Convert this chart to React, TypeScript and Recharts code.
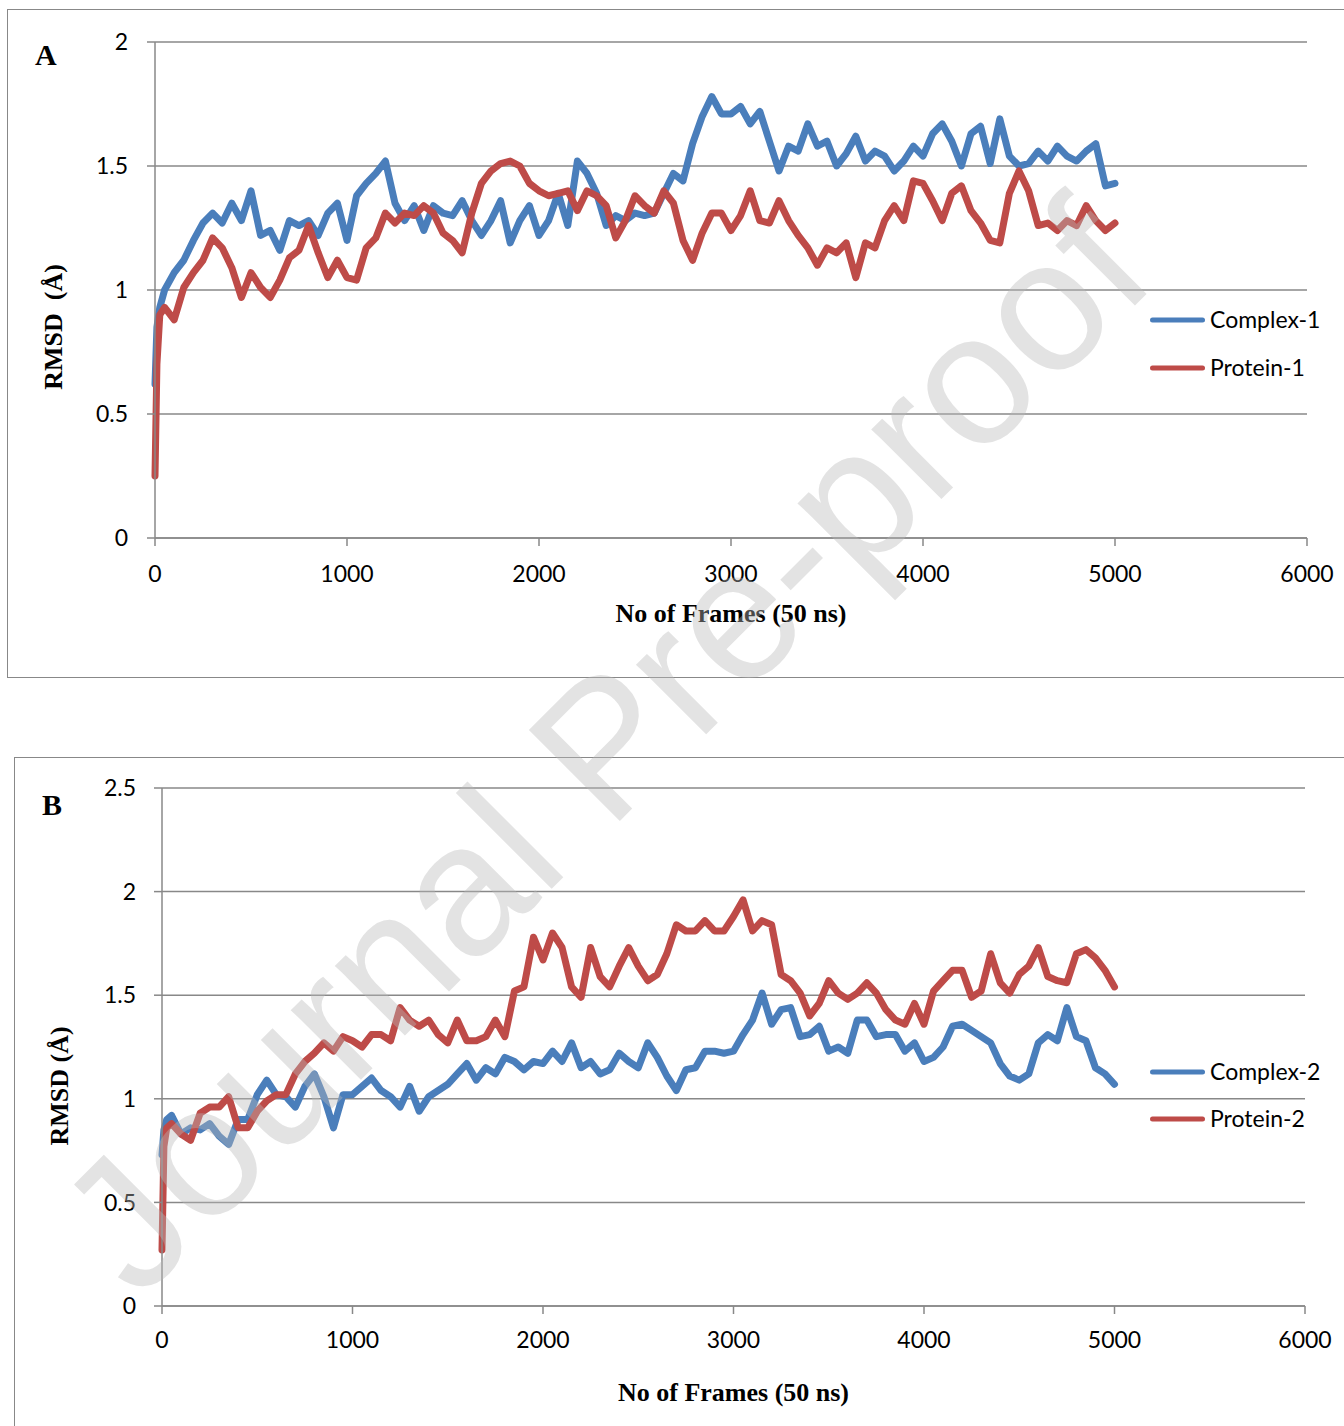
import React from 'react';
import { LineChart, Line, XAxis, YAxis, CartesianGrid, Legend } from 'recharts';

const FRAMES = [
  0, 10, 25, 50,
  100, 150, 200, 250, 300, 350, 400, 450, 500, 550,
  600, 650, 700, 750, 800, 850, 900, 950, 1000, 1050,
  1100, 1150, 1200, 1250, 1300, 1350, 1400, 1450, 1500, 1550,
  1600, 1650, 1700, 1750, 1800, 1850, 1900, 1950, 2000, 2050,
  2100, 2150, 2200, 2250, 2300, 2350, 2400, 2450, 2500, 2550,
  2600, 2650, 2700, 2750, 2800, 2850, 2900, 2950, 3000, 3050,
  3100, 3150, 3200, 3250, 3300, 3350, 3400, 3450, 3500, 3550,
  3600, 3650, 3700, 3750, 3800, 3850, 3900, 3950, 4000, 4050,
  4100, 4150, 4200, 4250, 4300, 4350, 4400, 4450, 4500, 4550,
  4600, 4650, 4700, 4750, 4800, 4850, 4900, 4950, 5000,
];

const COMPLEX_1 = [
  0.62, 0.85, 0.93, 1.0,
  1.07, 1.12, 1.2, 1.27, 1.31, 1.27, 1.35, 1.28, 1.4, 1.22,
  1.24, 1.16, 1.28, 1.26, 1.28, 1.22, 1.31, 1.35, 1.2, 1.38,
  1.43, 1.47, 1.52, 1.35, 1.28, 1.34, 1.24, 1.34, 1.31, 1.3,
  1.36, 1.28, 1.22, 1.28, 1.36, 1.19, 1.28, 1.34, 1.22, 1.28,
  1.39, 1.26, 1.52, 1.47, 1.39, 1.26, 1.3, 1.28, 1.31, 1.3,
  1.31, 1.39, 1.47, 1.44, 1.59, 1.7, 1.78, 1.71, 1.71, 1.74,
  1.67, 1.72, 1.6, 1.48, 1.58, 1.56, 1.67, 1.58, 1.6, 1.5,
  1.55, 1.62, 1.52, 1.56, 1.54, 1.48, 1.52, 1.58, 1.54, 1.63,
  1.67, 1.6, 1.5, 1.63, 1.66, 1.51, 1.69, 1.54, 1.5, 1.51,
  1.56, 1.52, 1.58, 1.54, 1.52, 1.56, 1.59, 1.42, 1.43,
];

const PROTEIN_1 = [
  0.25, 0.7, 0.9, 0.93,
  0.88, 1.01, 1.07, 1.12, 1.21, 1.17, 1.09, 0.97, 1.07, 1.01,
  0.97, 1.04, 1.13, 1.16, 1.26, 1.15, 1.05, 1.12, 1.05, 1.04,
  1.17, 1.21, 1.31, 1.27, 1.31, 1.3, 1.34, 1.31, 1.23, 1.2,
  1.15, 1.31, 1.43, 1.48, 1.51, 1.52, 1.5, 1.43, 1.4, 1.38,
  1.39, 1.4, 1.32, 1.4, 1.38, 1.34, 1.21, 1.28, 1.38, 1.34,
  1.31, 1.4, 1.35, 1.2, 1.12, 1.23, 1.31, 1.31, 1.24, 1.3,
  1.4, 1.28, 1.27, 1.36, 1.28, 1.22, 1.17, 1.1, 1.17, 1.15,
  1.19, 1.05, 1.19, 1.17, 1.28, 1.34, 1.28, 1.44, 1.43, 1.36,
  1.28, 1.39, 1.42, 1.32, 1.27, 1.2, 1.19, 1.39, 1.48, 1.4,
  1.26, 1.27, 1.24, 1.28, 1.26, 1.34, 1.28, 1.24, 1.27,
];

const COMPLEX_2 = [
  0.73, 0.85, 0.9, 0.92,
  0.83, 0.86, 0.85, 0.88, 0.82, 0.78, 0.9, 0.9, 1.02, 1.09,
  1.02, 1.01, 0.96, 1.06, 1.12, 1.01, 0.86, 1.02, 1.02, 1.06,
  1.1, 1.04, 1.01, 0.96, 1.06, 0.94, 1.01, 1.04, 1.07, 1.12,
  1.17, 1.09, 1.15, 1.12, 1.2, 1.18, 1.14, 1.18, 1.17, 1.23,
  1.18, 1.27, 1.15, 1.18, 1.12, 1.14, 1.22, 1.18, 1.15, 1.27,
  1.2, 1.11, 1.04, 1.14, 1.15, 1.23, 1.23, 1.22, 1.23, 1.31,
  1.38, 1.51, 1.36, 1.43, 1.44, 1.3, 1.31, 1.35, 1.23, 1.25,
  1.22, 1.38, 1.38, 1.3, 1.31, 1.31, 1.23, 1.27, 1.18, 1.2,
  1.25, 1.35, 1.36, 1.33, 1.3, 1.27, 1.17, 1.11, 1.09, 1.12,
  1.27, 1.31, 1.28, 1.44, 1.3, 1.28, 1.15, 1.12, 1.07,
];

const PROTEIN_2 = [
  0.27, 0.77, 0.86, 0.88,
  0.83, 0.8, 0.93, 0.96, 0.96, 1.01, 0.86, 0.86, 0.94, 0.99,
  1.02, 1.02, 1.12, 1.18, 1.22, 1.27, 1.23, 1.3, 1.28, 1.25,
  1.31, 1.31, 1.28, 1.44, 1.38, 1.35, 1.38, 1.31, 1.27, 1.38,
  1.28, 1.28, 1.3, 1.38, 1.3, 1.52, 1.54, 1.78, 1.67, 1.8,
  1.73, 1.54, 1.49, 1.73, 1.59, 1.54, 1.64, 1.73, 1.64, 1.57,
  1.6, 1.7, 1.84, 1.81, 1.81, 1.86, 1.81, 1.81, 1.88, 1.96,
  1.81, 1.86, 1.84, 1.6, 1.57, 1.51, 1.4, 1.46, 1.57, 1.51,
  1.48, 1.51, 1.56, 1.51, 1.43, 1.38, 1.36, 1.46, 1.36, 1.52,
  1.57, 1.62, 1.62, 1.49, 1.52, 1.7, 1.56, 1.51, 1.6, 1.64,
  1.73, 1.59, 1.57, 1.56, 1.7, 1.72, 1.68, 1.62, 1.54,
];

const X_TICKS = [0, 1000, 2000, 3000, 4000, 5000, 6000];
const Y_TICKS_A = [0, 0.5, 1, 1.5, 2];
const Y_TICKS_B = [0, 0.5, 1, 1.5, 2, 2.5];

const BLUE = '#4A7EBB';
const RED = '#BE4B48';
const GRAY = '#888888';
const TICK_FONT = 'Lato, "Open Sans", sans-serif';
const TITLE_FONT = '"Liberation Serif", "Times New Roman", serif';

const dataA = FRAMES.map((f, i) => ({ frame: f, complex: COMPLEX_1[i], protein: PROTEIN_1[i] }));
const dataB = FRAMES.map((f, i) => ({ frame: f, complex: COMPLEX_2[i], protein: PROTEIN_2[i] }));

const makeLegend = (spacing: number) => (props: any) => {
  const payload = props.payload || [];
  return (
    <svg width={196} height={110} style={{ display: 'block', overflow: 'visible' }}>
      {payload.map((e: any, i: number) => (
        <g key={i}>
          <line x1={4.5} x2={54.5} y1={15 + i * spacing} y2={15 + i * spacing} stroke={e.color} strokeWidth={5} strokeLinecap="round" />
          <text x={62} y={15 + i * spacing} dy="0.35em" fontFamily={TICK_FONT} fontSize={23} fill="#000">
            {e.value}
          </text>
        </g>
      ))}
    </svg>
  );
};

type PanelProps = {
  data: any[];
  height: number;
  margin: any;
  yDomain: [number, number];
  yTicks: number[];
  yTickMargin: number;
  xTickMargin: number;
  names: [string, string];
  xTitleDy: number;
  yTitleX: number;
  yTitleY: number;
  yTitle: string;
  legendTop: number;
  legendSpacing: number;
};

function Panel(p: PanelProps) {
  return (
    <LineChart width={1344} height={p.height} data={p.data} margin={p.margin}>
      <CartesianGrid horizontal vertical={false} stroke={GRAY} strokeWidth={1.5} />
      <XAxis
        dataKey="frame"
        type="number"
        domain={[0, 6000]}
        ticks={X_TICKS}
        interval={0}
        height={40}
        tickSize={8}
        tickMargin={p.xTickMargin}
        axisLine={{ stroke: GRAY, strokeWidth: 1.5 }}
        tickLine={{ stroke: GRAY, strokeWidth: 1.5 }}
        tick={{ fill: '#000', fontSize: 23, fontFamily: TICK_FONT }}
        label={{
          position: 'bottom',
          content: (lp: any) => {
            const vb = lp.viewBox || {};
            return (
              <text
                x={vb.x + vb.width / 2}
                y={vb.y + p.xTitleDy}
                textAnchor="middle"
                fontFamily={TITLE_FONT}
                fontWeight="bold"
                fontSize={26}
                fill="#000"
              >
                No of Frames (50 ns)
              </text>
            );
          },
        }}
      />
      <YAxis
        type="number"
        domain={p.yDomain}
        ticks={p.yTicks}
        interval={0}
        width={60}
        tickSize={8}
        tickMargin={p.yTickMargin}
        axisLine={{ stroke: GRAY, strokeWidth: 1.5 }}
        tickLine={{ stroke: GRAY, strokeWidth: 1.5 }}
        tick={{ fill: '#000', fontSize: 23, fontFamily: TICK_FONT }}
        label={{
          position: 'left',
          content: () => (
            <text
              x={p.yTitleX}
              y={p.yTitleY}
              transform={`rotate(-90, ${p.yTitleX}, ${p.yTitleY})`}
              textAnchor="middle"
              fontFamily={TITLE_FONT}
              fontWeight="bold"
              fontSize={26}
              fill="#000"
              style={{ whiteSpace: 'pre' }}
            >
              {p.yTitle}
            </text>
          ),
        }}
      />
      <Legend
        layout="horizontal"
        align="center"
        verticalAlign="middle"
        content={makeLegend(p.legendSpacing)}
        wrapperStyle={{ position: 'absolute', left: 1148, top: p.legendTop, width: 196, height: 110 }}
      />
      <Line
        type="linear"
        dataKey="complex"
        name={p.names[0]}
        stroke={BLUE}
        strokeWidth={7}
        strokeLinejoin="round"
        strokeLinecap="round"
        dot={false}
        activeDot={false}
        isAnimationActive={false}
      />
      <Line
        type="linear"
        dataKey="protein"
        name={p.names[1]}
        stroke={RED}
        strokeWidth={7}
        strokeLinejoin="round"
        strokeLinecap="round"
        dot={false}
        activeDot={false}
        isAnimationActive={false}
      />
    </LineChart>
  );
}

export default function App() {
  return (
    <div style={{ position: 'absolute', left: 0, top: 0, width: 1344, height: 1426, background: '#fff', overflow: 'hidden' }}>
      {/* Panel A frame */}
      <div style={{ position: 'absolute', left: 7, top: 9, width: 1360, height: 669, border: `1.5px solid ${GRAY}`, boxSizing: 'border-box' }} />
      {/* Panel B frame */}
      <div style={{ position: 'absolute', left: 14, top: 757, width: 1360, height: 700, border: `1.5px solid ${GRAY}`, boxSizing: 'border-box' }} />

      <div style={{ position: 'absolute', left: 0, top: 0 }}>
        <Panel
          data={dataA}
          height={680}
          margin={{ top: 42, right: 37, bottom: 102, left: 95 }}
          yDomain={[0, 2]}
          yTicks={Y_TICKS_A}
          yTickMargin={19}
          xTickMargin={20}
          names={['Complex-1', 'Protein-1']}
          xTitleDy={84}
          yTitleX={62}
          yTitleY={327}
          yTitle={'RMSD\u00a0\u00a0(Å)'}
          legendTop={305}
          legendSpacing={48}
        />
      </div>
      <div style={{ position: 'absolute', left: 0, top: 740 }}>
        <Panel
          data={dataB}
          height={686}
          margin={{ top: 48, right: 39, bottom: 80, left: 102 }}
          yDomain={[0, 2.5]}
          yTicks={Y_TICKS_B}
          yTickMargin={18}
          xTickMargin={18}
          names={['Complex-2', 'Protein-2']}
          xTitleDy={95}
          yTitleX={68}
          yTitleY={346}
          yTitle={'RMSD (Å)'}
          legendTop={317}
          legendSpacing={47}
        />
      </div>

      <div style={{ position: 'absolute', left: 35, top: 40, fontFamily: TITLE_FONT, fontWeight: 'bold', fontSize: 30, lineHeight: '30px' }}>A</div>
      <div style={{ position: 'absolute', left: 42, top: 790, fontFamily: TITLE_FONT, fontWeight: 'bold', fontSize: 30, lineHeight: '30px' }}>B</div>

      <svg width={1344} height={1426} style={{ position: 'absolute', left: 0, top: 0, pointerEvents: 'none' }}>
        <text
          x={603}
          y={745}
          transform="rotate(-45, 603, 745)"
          textAnchor="middle"
          dy="0.35em"
          fontFamily='"Liberation Sans", Arial, sans-serif'
          fontSize={187}
          fill="#b8b8b8"
          fillOpacity={0.4}
        >
          Journal Pre-proof
        </text>
      </svg>
    </div>
  );
}
